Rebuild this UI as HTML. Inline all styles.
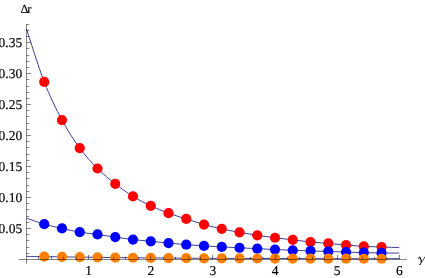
<!DOCTYPE html>
<html><head><meta charset="utf-8"><title>plot</title>
<style>html,body{margin:0;padding:0;background:#fff}body{width:425px;height:278px;overflow:hidden}svg{display:block}svg text{font-family:"Liberation Serif",serif;text-rendering:geometricPrecision}svg{will-change:transform}</style></head>
<body>
<svg width="425" height="278" viewBox="0 0 425 278">
<rect width="425" height="278" fill="#fff"/>
<g stroke="#3d3d99" stroke-width="1.0" fill="none">
<path d="M26.50 29.00 C29.46 37.82 38.33 66.75 44.25 81.93 C50.17 97.10 56.09 109.01 62.00 120.05 C67.92 131.09 73.84 140.10 79.75 148.17 C85.67 156.25 91.59 162.56 97.51 168.50 C103.42 174.44 109.34 179.14 115.26 183.80 C121.17 188.46 127.09 192.78 133.01 196.45 C138.93 200.12 144.84 203.01 150.76 205.80 C156.68 208.59 162.59 211.02 168.51 213.20 C174.43 215.38 180.35 217.01 186.26 218.90 C192.18 220.79 198.10 222.89 204.01 224.55 C209.93 226.21 215.85 227.55 221.77 228.85 C227.68 230.15 233.60 231.27 239.52 232.35 C245.43 233.43 251.35 234.45 257.27 235.35 C263.19 236.25 269.10 237.00 275.02 237.75 C280.94 238.50 286.85 239.14 292.77 239.85 C298.69 240.56 304.61 241.39 310.52 241.99 C316.44 242.59 322.36 242.92 328.27 243.43 C334.19 243.94 340.11 244.57 346.03 245.07 C351.94 245.57 357.86 246.08 363.78 246.41 C369.69 246.74 375.61 246.85 381.53 247.05 C387.45 247.25 396.32 247.51 399.28 247.60"/>
<path d="M26.50 218.20 C29.46 219.19 38.33 222.44 44.25 224.15 C50.17 225.86 56.09 227.12 62.00 228.45 C67.92 229.78 73.84 231.15 79.75 232.15 C85.67 233.15 91.59 233.62 97.51 234.45 C103.42 235.28 109.34 236.27 115.26 237.12 C121.17 237.98 127.09 238.90 133.01 239.60 C138.93 240.30 144.84 240.72 150.76 241.30 C156.68 241.88 162.59 242.53 168.51 243.10 C174.43 243.67 180.35 244.23 186.26 244.70 C192.18 245.17 198.10 245.53 204.01 245.90 C209.93 246.27 215.85 246.59 221.77 246.90 C227.68 247.21 233.60 247.48 239.52 247.77 C245.43 248.07 251.35 248.36 257.27 248.65 C263.19 248.94 269.10 249.25 275.02 249.52 C280.94 249.80 286.85 250.07 292.77 250.30 C298.69 250.53 304.61 250.69 310.52 250.89 C316.44 251.09 322.36 251.28 328.27 251.48 C334.19 251.68 340.11 251.87 346.03 252.07 C351.94 252.27 357.86 252.51 363.78 252.66 C369.69 252.81 375.61 252.88 381.53 252.95 C387.45 253.02 396.32 253.07 399.28 253.10"/>
<path d="M26.50 256.40 C29.46 256.43 38.33 256.52 44.25 256.60 C50.17 256.68 56.09 256.82 62.00 256.90 C67.92 256.98 73.84 257.03 79.75 257.10 C85.67 257.18 91.59 257.28 97.51 257.35 C103.42 257.43 109.34 257.48 115.26 257.55 C121.17 257.62 127.09 257.69 133.01 257.75 C138.93 257.81 144.84 257.85 150.76 257.90 C156.68 257.95 162.59 258.00 168.51 258.05 C174.43 258.10 180.35 258.16 186.26 258.20 C192.18 258.24 198.10 258.27 204.01 258.30 C209.93 258.33 215.85 258.38 221.77 258.40 C227.68 258.42 233.60 258.43 239.52 258.45 C245.43 258.47 251.35 258.48 257.27 258.50 C263.19 258.52 269.10 258.53 275.02 258.55 C280.94 258.57 286.85 258.58 292.77 258.60 C298.69 258.62 304.61 258.63 310.52 258.65 C316.44 258.67 322.36 258.69 328.27 258.70 C334.19 258.71 340.11 258.69 346.03 258.70 C351.94 258.71 357.86 258.74 363.78 258.75 C369.69 258.76 375.61 258.77 381.53 258.75 C387.45 258.73 396.32 258.62 399.28 258.60"/>
</g>
<g fill="#ff0000">
<circle cx="44.25" cy="81.93" r="5.10"/>
<circle cx="62.00" cy="120.05" r="5.10"/>
<circle cx="79.75" cy="148.17" r="5.10"/>
<circle cx="97.51" cy="168.50" r="5.10"/>
<circle cx="115.26" cy="183.80" r="5.10"/>
<circle cx="133.01" cy="196.45" r="5.10"/>
<circle cx="150.76" cy="205.80" r="5.10"/>
<circle cx="168.51" cy="213.20" r="5.10"/>
<circle cx="186.26" cy="218.90" r="5.10"/>
<circle cx="204.01" cy="224.55" r="5.10"/>
<circle cx="221.77" cy="228.85" r="5.10"/>
<circle cx="239.52" cy="232.35" r="5.10"/>
<circle cx="257.27" cy="235.35" r="5.10"/>
<circle cx="275.02" cy="237.75" r="5.10"/>
<circle cx="292.77" cy="239.85" r="5.10"/>
<circle cx="310.52" cy="241.99" r="5.10"/>
<circle cx="328.27" cy="243.43" r="5.10"/>
<circle cx="346.03" cy="245.07" r="5.10"/>
<circle cx="363.78" cy="246.41" r="5.10"/>
<circle cx="381.53" cy="247.05" r="5.10"/>
</g>
<g fill="#0000ff">
<circle cx="44.25" cy="224.15" r="5.10"/>
<circle cx="62.00" cy="228.45" r="5.10"/>
<circle cx="79.75" cy="232.15" r="5.10"/>
<circle cx="97.51" cy="234.45" r="5.10"/>
<circle cx="115.26" cy="237.12" r="5.10"/>
<circle cx="133.01" cy="239.60" r="5.10"/>
<circle cx="150.76" cy="241.30" r="5.10"/>
<circle cx="168.51" cy="243.10" r="5.10"/>
<circle cx="186.26" cy="244.70" r="5.10"/>
<circle cx="204.01" cy="245.90" r="5.10"/>
<circle cx="221.77" cy="246.90" r="5.10"/>
<circle cx="239.52" cy="247.77" r="5.10"/>
<circle cx="257.27" cy="248.65" r="5.10"/>
<circle cx="275.02" cy="249.52" r="5.10"/>
<circle cx="292.77" cy="250.30" r="5.10"/>
<circle cx="310.52" cy="250.89" r="5.10"/>
<circle cx="328.27" cy="251.48" r="5.10"/>
<circle cx="346.03" cy="252.07" r="5.10"/>
<circle cx="363.78" cy="252.66" r="5.10"/>
<circle cx="381.53" cy="252.95" r="5.10"/>
</g>
<g fill="#ff8000">
<circle cx="44.25" cy="256.60" r="5.10"/>
<circle cx="62.00" cy="256.90" r="5.10"/>
<circle cx="79.75" cy="257.10" r="5.10"/>
<circle cx="97.51" cy="257.35" r="5.10"/>
<circle cx="115.26" cy="257.55" r="5.10"/>
<circle cx="133.01" cy="257.75" r="5.10"/>
<circle cx="150.76" cy="257.90" r="5.10"/>
<circle cx="168.51" cy="258.05" r="5.10"/>
<circle cx="186.26" cy="258.20" r="5.10"/>
<circle cx="204.01" cy="258.30" r="5.10"/>
<circle cx="221.77" cy="258.40" r="5.10"/>
<circle cx="239.52" cy="258.45" r="5.10"/>
<circle cx="257.27" cy="258.50" r="5.10"/>
<circle cx="275.02" cy="258.55" r="5.10"/>
<circle cx="292.77" cy="258.60" r="5.10"/>
<circle cx="310.52" cy="258.65" r="5.10"/>
<circle cx="328.27" cy="258.70" r="5.10"/>
<circle cx="346.03" cy="258.70" r="5.10"/>
<circle cx="363.78" cy="258.75" r="5.10"/>
<circle cx="381.53" cy="258.75" r="5.10"/>
</g>
<g stroke="#000" stroke-width="0.48" fill="none">
<line x1="26.50" y1="24.00" x2="26.50" y2="263.80"/>
<line x1="18.80" y1="259.50" x2="406.80" y2="259.50"/>
<line x1="26.50" y1="253.50" x2="29.30" y2="253.50"/>
<line x1="26.50" y1="247.50" x2="29.30" y2="247.50"/>
<line x1="26.50" y1="240.50" x2="29.30" y2="240.50"/>
<line x1="26.50" y1="234.50" x2="29.30" y2="234.50"/>
<line x1="26.50" y1="228.50" x2="31.10" y2="228.50"/>
<line x1="26.50" y1="222.50" x2="29.30" y2="222.50"/>
<line x1="26.50" y1="216.50" x2="29.30" y2="216.50"/>
<line x1="26.50" y1="209.50" x2="29.30" y2="209.50"/>
<line x1="26.50" y1="203.50" x2="29.30" y2="203.50"/>
<line x1="26.50" y1="197.50" x2="31.10" y2="197.50"/>
<line x1="26.50" y1="191.50" x2="29.30" y2="191.50"/>
<line x1="26.50" y1="185.50" x2="29.30" y2="185.50"/>
<line x1="26.50" y1="178.50" x2="29.30" y2="178.50"/>
<line x1="26.50" y1="172.50" x2="29.30" y2="172.50"/>
<line x1="26.50" y1="166.50" x2="31.10" y2="166.50"/>
<line x1="26.50" y1="160.50" x2="29.30" y2="160.50"/>
<line x1="26.50" y1="154.50" x2="29.30" y2="154.50"/>
<line x1="26.50" y1="147.50" x2="29.30" y2="147.50"/>
<line x1="26.50" y1="141.50" x2="29.30" y2="141.50"/>
<line x1="26.50" y1="135.50" x2="31.10" y2="135.50"/>
<line x1="26.50" y1="129.50" x2="29.30" y2="129.50"/>
<line x1="26.50" y1="123.50" x2="29.30" y2="123.50"/>
<line x1="26.50" y1="116.50" x2="29.30" y2="116.50"/>
<line x1="26.50" y1="110.50" x2="29.30" y2="110.50"/>
<line x1="26.50" y1="104.50" x2="31.10" y2="104.50"/>
<line x1="26.50" y1="98.50" x2="29.30" y2="98.50"/>
<line x1="26.50" y1="92.50" x2="29.30" y2="92.50"/>
<line x1="26.50" y1="86.50" x2="29.30" y2="86.50"/>
<line x1="26.50" y1="79.50" x2="29.30" y2="79.50"/>
<line x1="26.50" y1="73.50" x2="31.10" y2="73.50"/>
<line x1="26.50" y1="67.50" x2="29.30" y2="67.50"/>
<line x1="26.50" y1="61.50" x2="29.30" y2="61.50"/>
<line x1="26.50" y1="55.50" x2="29.30" y2="55.50"/>
<line x1="26.50" y1="48.50" x2="29.30" y2="48.50"/>
<line x1="26.50" y1="42.50" x2="31.10" y2="42.50"/>
<line x1="26.50" y1="36.50" x2="29.30" y2="36.50"/>
<line x1="26.50" y1="30.50" x2="29.30" y2="30.50"/>
<line x1="26.50" y1="24.50" x2="29.30" y2="24.50"/>
<line x1="38.50" y1="259.50" x2="38.50" y2="256.70"/>
<line x1="51.50" y1="259.50" x2="51.50" y2="256.70"/>
<line x1="63.50" y1="259.50" x2="63.50" y2="256.70"/>
<line x1="76.50" y1="259.50" x2="76.50" y2="256.70"/>
<line x1="88.50" y1="259.50" x2="88.50" y2="254.90"/>
<line x1="101.50" y1="259.50" x2="101.50" y2="256.70"/>
<line x1="113.50" y1="259.50" x2="113.50" y2="256.70"/>
<line x1="125.50" y1="259.50" x2="125.50" y2="256.70"/>
<line x1="138.50" y1="259.50" x2="138.50" y2="256.70"/>
<line x1="150.50" y1="259.50" x2="150.50" y2="254.90"/>
<line x1="163.50" y1="259.50" x2="163.50" y2="256.70"/>
<line x1="175.50" y1="259.50" x2="175.50" y2="256.70"/>
<line x1="188.50" y1="259.50" x2="188.50" y2="256.70"/>
<line x1="200.50" y1="259.50" x2="200.50" y2="256.70"/>
<line x1="212.50" y1="259.50" x2="212.50" y2="254.90"/>
<line x1="225.50" y1="259.50" x2="225.50" y2="256.70"/>
<line x1="237.50" y1="259.50" x2="237.50" y2="256.70"/>
<line x1="250.50" y1="259.50" x2="250.50" y2="256.70"/>
<line x1="262.50" y1="259.50" x2="262.50" y2="256.70"/>
<line x1="275.50" y1="259.50" x2="275.50" y2="254.90"/>
<line x1="287.50" y1="259.50" x2="287.50" y2="256.70"/>
<line x1="299.50" y1="259.50" x2="299.50" y2="256.70"/>
<line x1="312.50" y1="259.50" x2="312.50" y2="256.70"/>
<line x1="324.50" y1="259.50" x2="324.50" y2="256.70"/>
<line x1="337.50" y1="259.50" x2="337.50" y2="254.90"/>
<line x1="349.50" y1="259.50" x2="349.50" y2="256.70"/>
<line x1="362.50" y1="259.50" x2="362.50" y2="256.70"/>
<line x1="374.50" y1="259.50" x2="374.50" y2="256.70"/>
<line x1="386.50" y1="259.50" x2="386.50" y2="256.70"/>
<line x1="399.50" y1="259.50" x2="399.50" y2="254.90"/>
</g>
<g class="t" font-size="13.5" fill="#000" stroke="#000" stroke-width="0.15">
<text x="22.20" y="233.12" text-anchor="end">0.05</text>
<text x="22.20" y="202.14" text-anchor="end">0.10</text>
<text x="22.20" y="171.16" text-anchor="end">0.15</text>
<text x="22.20" y="140.18" text-anchor="end">0.20</text>
<text x="22.20" y="109.20" text-anchor="end">0.25</text>
<text x="22.20" y="78.22" text-anchor="end">0.30</text>
<text x="22.20" y="47.24" text-anchor="end">0.35</text>
<text x="88.63" y="275.30" text-anchor="middle">1</text>
<text x="150.76" y="275.30" text-anchor="middle">2</text>
<text x="212.89" y="275.30" text-anchor="middle">3</text>
<text x="275.02" y="275.30" text-anchor="middle">4</text>
<text x="337.15" y="275.30" text-anchor="middle">5</text>
<text x="399.28" y="275.30" text-anchor="middle">6</text>
<text x="20.6" y="13.4" font-size="12.5">Δ<tspan dx="-1.5">r</tspan></text>
</g>
<g fill="none" stroke="#000" stroke-linecap="round" stroke-linejoin="round">
<path d="M418.3 258.9 C418.4 257.8 418.9 257.2 419.5 257.2" stroke-width="0.7"/>
<path d="M419.4 257.3 C420.4 257.6 421.1 260.0 421.4 262.2" stroke-width="1.2"/>
<path d="M424.7 257.1 C423.9 259.3 422.3 261.2 421.3 262.6 C420.5 263.7 419.9 264.3 419.7 264.8" stroke-width="0.7"/>
<ellipse cx="420.0" cy="264.2" rx="0.55" ry="0.75" fill="#000" stroke="none" transform="rotate(30 420 264.2)"/>
</g>
</svg>
</body></html>
